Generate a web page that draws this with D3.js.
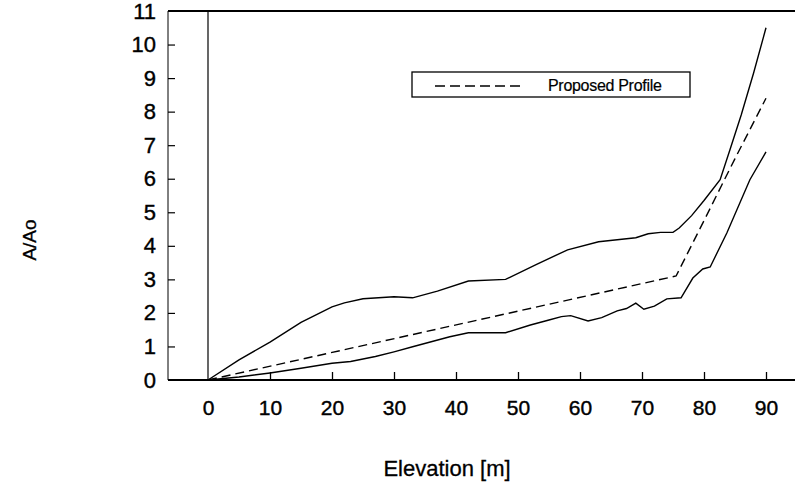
<!DOCTYPE html>
<html>
<head>
<meta charset="utf-8">
<script src="https://cdn.jsdelivr.net/npm/d3@7"></script>
<style>
  body { margin: 0; background: #fff; }
  svg { display: block; font-family: "Liberation Sans", Arial, sans-serif; }
</style>
</head>
<body>
<div id="chart"></div>
<script>
// Data
const xTicks = [0, 10, 20, 30, 40, 50, 60, 70, 80, 90];
const yTicks = [0, 1, 2, 3, 4, 5, 6, 7, 8, 9, 10, 11];

const upperX = [0, 5, 10, 15, 20, 22, 25, 30, 33, 37, 42, 48, 53, 58, 63, 69, 71, 73, 75, 76, 78, 80, 82.6, 84.2, 86, 88, 90];
const upperY = [0, 0.6, 1.13, 1.72, 2.18, 2.3, 2.42, 2.48, 2.45, 2.65, 2.95, 3.0, 3.45, 3.88, 4.12, 4.24, 4.36, 4.4, 4.4, 4.53, 4.9, 5.35, 5.97, 6.87, 7.9, 9.15, 10.5];

const lowerX = [0, 5, 10, 15, 20, 23, 27, 30, 33, 39, 42, 48, 52, 55, 57, 58.5, 61.3, 63.5, 66, 67.5, 69, 70.3, 72, 74, 76.3, 78.2, 79.8, 81, 83.7, 87.4, 90];
const lowerY = [0, 0.09, 0.21, 0.35, 0.5, 0.55, 0.7, 0.84, 0.99, 1.29, 1.41, 1.41, 1.64, 1.79, 1.89, 1.92, 1.76, 1.86, 2.06, 2.13, 2.29, 2.11, 2.2, 2.42, 2.45, 3.04, 3.31, 3.37, 4.39, 5.97, 6.8];

const profileX = [0, 75.5, 80, 85, 90];
const profileY = [0, 3.1, 4.75, 6.6, 8.4];

const width = 795;
const height = 483;

const svg = d3.select("#chart").append("svg")
    .attr("width", width)
    .attr("height", height);

// scales
const x = d3.scaleLinear().domain([0, 90]).range([208, 766]);
const y = d3.scaleLinear().domain([0, 11]).range([380, 11]);

const plotLeft = 168, plotRight = 795, plotTop = y(11), plotBottom = y(0);

// frame: top and bottom thick, left thin
svg.append("line")
    .attr("x1", plotLeft).attr("x2", plotRight).attr("y1", plotTop).attr("y2", plotTop)
    .attr("stroke", "#000").attr("stroke-width", 2);
svg.append("line")
    .attr("x1", plotLeft).attr("x2", plotRight).attr("y1", plotBottom).attr("y2", plotBottom)
    .attr("stroke", "#000").attr("stroke-width", 2);
svg.append("line")
    .attr("x1", plotLeft).attr("x2", plotLeft).attr("y1", plotTop).attr("y2", plotBottom)
    .attr("stroke", "#000").attr("stroke-width", 1);

// vertical line at elevation 0
svg.append("line")
    .attr("x1", x(0)).attr("x2", x(0)).attr("y1", plotTop).attr("y2", plotBottom)
    .attr("stroke", "#000").attr("stroke-width", 1.2);

// x axis (ticks point inward)
const xAxis = d3.axisBottom(x)
    .tickValues(xTicks)
    .tickSize(-8)
    .tickPadding(20)
    .tickFormat(d3.format("d"));

const gx = svg.append("g")
    .attr("transform", `translate(0,${plotBottom})`)
    .call(xAxis);
gx.select(".domain").remove();
gx.selectAll(".tick line")
    .attr("stroke", "#000").attr("stroke-width", 1.3)
    .filter(d => d === 0).remove();
gx.selectAll(".tick text")
    .attr("font-size", 21).attr("fill", "#000")
    .attr("stroke", "#000").attr("stroke-width", 0.4)
    .attr("font-family", "Liberation Sans, Arial, sans-serif");

// y axis (ticks point inward)
const yAxis = d3.axisLeft(y)
    .tickValues(yTicks)
    .tickSize(-7)
    .tickPadding(12)
    .tickFormat(d3.format("d"));

const gy = svg.append("g")
    .attr("transform", `translate(${plotLeft},0)`)
    .call(yAxis);
gy.select(".domain").remove();
gy.selectAll(".tick line")
    .attr("stroke", "#000").attr("stroke-width", 1.2)
    .filter(d => d === 0 || d === 11).remove();
gy.selectAll(".tick text")
    .attr("font-size", 22).attr("fill", "#000")
    .attr("stroke", "#000").attr("stroke-width", 0.4)
    .attr("font-family", "Liberation Sans, Arial, sans-serif");

// axis titles
svg.append("text")
    .attr("x", 447).attr("y", 476)
    .attr("text-anchor", "middle")
    .attr("font-size", 22)
    .attr("stroke", "#000").attr("stroke-width", 0.3)
    .text("Elevation [m]");

svg.append("text")
    .attr("transform", "translate(36,240) rotate(-90)")
    .attr("text-anchor", "middle")
    .attr("font-size", 19)
    .attr("stroke", "#000").attr("stroke-width", 0.3)
    .text("A/Ao");

// curves
const line = d3.line()
    .x(d => x(d[0]))
    .y(d => y(d[1]));

const upper = upperX.map((v, i) => [v, upperY[i]]);
const lower = lowerX.map((v, i) => [v, lowerY[i]]);
const profile = profileX.map((v, i) => [v, profileY[i]]);

svg.append("path").datum(upper)
    .attr("d", line)
    .attr("fill", "none").attr("stroke", "#000").attr("stroke-width", 1.4);

svg.append("path").datum(lower)
    .attr("d", line)
    .attr("fill", "none").attr("stroke", "#000").attr("stroke-width", 1.4);

svg.append("path").datum(profile)
    .attr("d", line)
    .attr("fill", "none").attr("stroke", "#000").attr("stroke-width", 1.4)
    .attr("stroke-dasharray", "9,5");

// legend
const legend = svg.append("g");
legend.append("rect")
    .attr("x", 412).attr("y", 72)
    .attr("width", 278).attr("height", 25)
    .attr("fill", "#fff").attr("stroke", "#000").attr("stroke-width", 1.3);
legend.append("line")
    .attr("x1", 435).attr("x2", 524).attr("y1", 86).attr("y2", 86)
    .attr("stroke", "#000").attr("stroke-width", 1.4)
    .attr("stroke-dasharray", "10,5");
legend.append("text")
    .attr("x", 548).attr("y", 91)
    .attr("font-size", 16)
    .attr("letter-spacing", -0.3)
    .attr("stroke", "#000").attr("stroke-width", 0.2)
    .text("Proposed Profile");
</script>
</body>
</html>
